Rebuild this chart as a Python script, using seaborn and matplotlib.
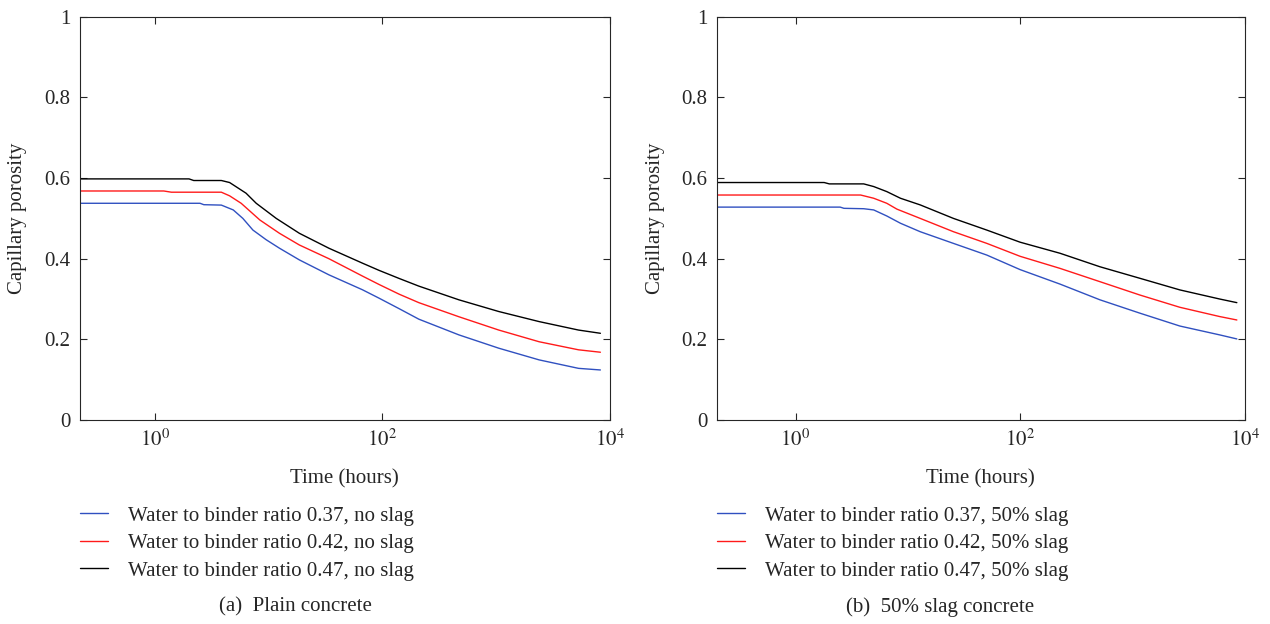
import matplotlib
matplotlib.use("Agg")
import matplotlib.pyplot as plt
import matplotlib.ticker as mticker
import pandas as pd
import seaborn as sns

# (a) Plain concrete: time in hours, capillary porosity
plain_037_t = [0.22, 2.5, 2.7, 3.85, 4.9, 5.95, 7.3, 9.55, 12.5, 18.7, 34, 67, 94, 141, 210, 473, 1060, 2400, 5330, 8300]
plain_037_y = [0.5375, 0.5375, 0.534, 0.533, 0.521, 0.500, 0.471, 0.447, 0.426, 0.397, 0.360, 0.323, 0.302, 0.276, 0.250, 0.211, 0.178, 0.149, 0.128, 0.124]
plain_042_t = [0.22, 1.2, 1.4, 3.85, 4.55, 5.75, 8.4, 12.5, 18.7, 34, 67, 94, 141, 210, 473, 1060, 2400, 5330, 8300]
plain_042_y = [0.568, 0.568, 0.565, 0.565, 0.556, 0.5375, 0.496, 0.463, 0.434, 0.400, 0.357, 0.336, 0.312, 0.291, 0.256, 0.223, 0.194, 0.174, 0.168]
plain_047_t = [0.22, 2.0, 2.2, 3.85, 4.55, 6.35, 7.8, 11.7, 18.7, 34, 67, 94, 141, 210, 473, 1060, 2400, 5330, 8300]
plain_047_y = [0.598, 0.598, 0.594, 0.594, 0.589, 0.5625, 0.5375, 0.500, 0.463, 0.426, 0.389, 0.371, 0.351, 0.332, 0.298, 0.269, 0.244, 0.223, 0.215]

# (b) 50% slag concrete
slag_037_t = [0.2, 2.5, 2.7, 4.05, 4.97, 6.5, 8.6, 12.9, 25.5, 50.6, 100, 227, 515, 1165, 2650, 6000, 8530]
slag_037_y = [0.528, 0.528, 0.525, 0.524, 0.521, 0.506, 0.488, 0.467, 0.438, 0.409, 0.373, 0.337, 0.298, 0.265, 0.233, 0.211, 0.201]
slag_042_t = [0.2, 3.8, 4.97, 6.5, 8.0, 12.9, 25.5, 50.6, 100, 227, 515, 1165, 2650, 6000, 8530]
slag_042_y = [0.558, 0.558, 0.550, 0.5375, 0.523, 0.500, 0.467, 0.438, 0.406, 0.376, 0.343, 0.310, 0.2795, 0.2565, 0.248]
slag_047_t = [0.2, 1.8, 2.0, 4.05, 4.97, 6.5, 8.6, 12.9, 25.5, 50.6, 100, 227, 515, 1165, 2650, 6000, 8530]
slag_047_y = [0.589, 0.589, 0.5856, 0.5856, 0.579, 0.5665, 0.550, 0.5335, 0.500, 0.471, 0.441, 0.4135, 0.380, 0.3515, 0.3226, 0.300, 0.291]

plain_labels = [
    "Water to binder ratio 0.37, no slag",
    "Water to binder ratio 0.42, no slag",
    "Water to binder ratio 0.47, no slag",
]
slag_labels = [
    "Water to binder ratio 0.37, 50% slag",
    "Water to binder ratio 0.42, 50% slag",
    "Water to binder ratio 0.47, 50% slag",
]
captions = ["(a)  Plain concrete", "(b)  50% slag concrete"]
colors = ["#3050c0", "#ff1a1a", "#000000"]


def long_frame(series, labels):
    parts = []
    for (t, y), lab in zip(series, labels):
        parts.append(pd.DataFrame({"time": t, "porosity": y, "series": lab}))
    return pd.concat(parts, ignore_index=True)


sns.set_style("ticks")
plt.rcParams["font.family"] = ["Liberation Serif", "DejaVu Serif"]
plt.rcParams["mathtext.fontset"] = "stix"
FS = 15

fig = plt.figure(figsize=(12.7, 6.24), dpi=100)
ax_a = fig.add_axes([0.063, 0.327, 0.417, 0.646])
ax_b = fig.add_axes([0.5646, 0.327, 0.4154, 0.646])

plain_df = long_frame([(plain_037_t, plain_037_y), (plain_042_t, plain_042_y), (plain_047_t, plain_047_y)], plain_labels)
slag_df = long_frame([(slag_037_t, slag_037_y), (slag_042_t, slag_042_y), (slag_047_t, slag_047_y)], slag_labels)

panels = [
    (ax_a, plain_df, plain_labels, 0.22, 0.063, 0.233),
    (ax_b, slag_df, slag_labels, 0.2, 0.5646, 0.740),
]

for (ax, df, labels, xmin, leg_x, cap_x), cap in zip(panels, captions):
    sns.lineplot(data=df, x="time", y="porosity", hue="series", hue_order=labels,
                 palette=colors, estimator=None, sort=False, linewidth=1.0, ax=ax, legend=True)
    ax.set_xscale("log")
    ax.set_xlim(xmin, 1e4)
    ax.set_ylim(0, 1)
    ax.xaxis.set_major_locator(mticker.FixedLocator([1, 100, 10000]))
    ax.xaxis.set_minor_locator(mticker.NullLocator())
    ax.xaxis.set_major_formatter(mticker.FixedFormatter([r"$10^0$", r"$10^2$", r"$10^4$"]))
    ax.set_yticks([0, 0.2, 0.4, 0.6, 0.8, 1.0])
    ax.set_yticklabels(["0", "0.2", "0.4", "0.6", "0.8", "1"])
    ax.tick_params(direction="in", top=True, right=True, length=5, width=0.8, labelsize=FS, pad=7)
    for s in ax.spines.values():
        s.set_linewidth(0.8)
    ax.set_xlabel("Time (hours)", fontsize=FS, labelpad=13)
    ax.set_ylabel("Capillary porosity", fontsize=FS, labelpad=12)

    handles, labs = ax.get_legend_handles_labels()
    ax.get_legend().remove()
    fig.legend(handles, labs, loc="upper left", bbox_to_anchor=(leg_x, 1 - 506 / 624),
               frameon=False, fontsize=FS, handlelength=1.35, handletextpad=0.95,
               labelspacing=0.38, borderpad=0, borderaxespad=0)
    fig.text(cap_x, 1 - 607 / 624, cap, fontsize=FS, ha="center", va="center")

fig.savefig("out.png", dpi=100)
